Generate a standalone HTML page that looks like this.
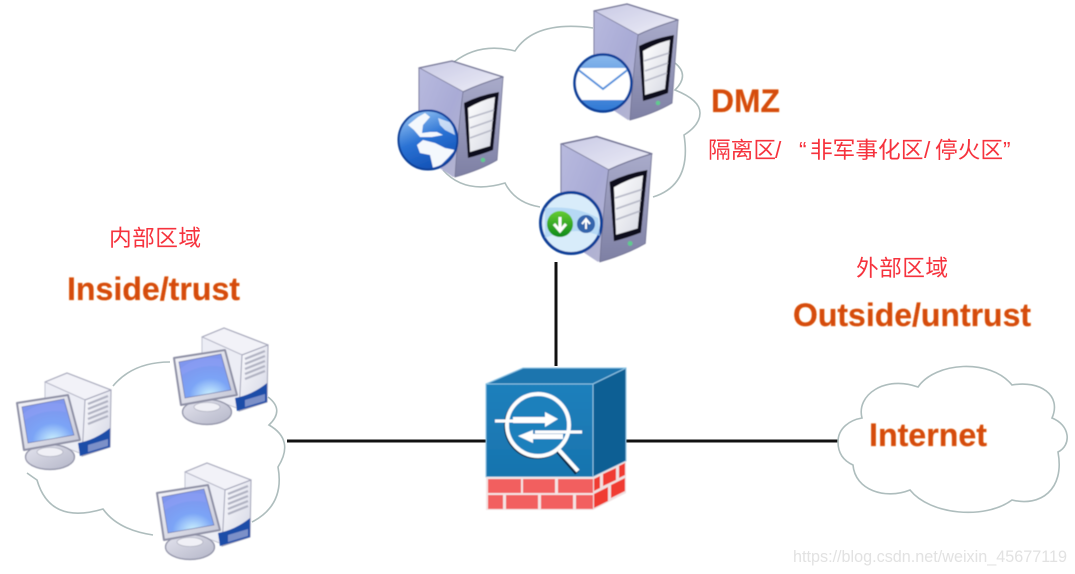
<!DOCTYPE html>
<html><head><meta charset="utf-8"><style>
html,body{margin:0;padding:0;background:#fff}
svg{display:block}
.o{font-family:"Liberation Sans",sans-serif;font-weight:bold;fill:#d54c0a;stroke:#e8701f;stroke-width:.3;filter:url(#bt)}
.r{font-family:"Liberation Sans","Noto Sans CJK SC",sans-serif;fill:#f6323c;font-size:22.7px;filter:url(#bs)}
.c{fill:none;stroke:#aebdbd;stroke-width:1.6}
</style></head><body>
<svg width="1075" height="574" viewBox="0 0 1075 574" xmlns="http://www.w3.org/2000/svg">
<defs>
<filter id="bt" x="-5%" y="-20%" width="110%" height="140%"><feGaussianBlur stdDeviation=".45"/></filter>
<filter id="bs" x="-5%" y="-20%" width="110%" height="140%"><feGaussianBlur stdDeviation=".25"/></filter>
<filter id="bi" x="-5%" y="-5%" width="110%" height="110%"><feGaussianBlur stdDeviation=".55"/></filter>
<linearGradient id="sl" x1="0" y1="0" x2="1" y2="1"><stop offset="0" stop-color="#b8bade"/><stop offset=".55" stop-color="#a9abd6"/><stop offset="1" stop-color="#b6b7d0"/></linearGradient>
<linearGradient id="st" x1="0" y1="0" x2="1" y2="1"><stop offset="0" stop-color="#c8c9e4"/><stop offset="1" stop-color="#eeeef8"/></linearGradient>
<linearGradient id="sf" x1="0" y1="0" x2="0" y2="1"><stop offset="0" stop-color="#a9abca"/><stop offset="1" stop-color="#7e80a4"/></linearGradient>
<linearGradient id="bay" x1="0" y1="0" x2="1" y2="1"><stop offset="0" stop-color="#ffffff"/><stop offset="1" stop-color="#d6d8e2"/></linearGradient>
<linearGradient id="glb" x1=".2" y1="0" x2=".6" y2="1"><stop offset="0" stop-color="#9cc8f4"/><stop offset=".5" stop-color="#2a72d4"/><stop offset="1" stop-color="#1250b4"/></linearGradient>
<radialGradient id="scr" cx=".6" cy=".95" r=".8"><stop offset="0" stop-color="#d0f6ff"/><stop offset=".5" stop-color="#7ba4f6"/><stop offset="1" stop-color="#7f96ee"/></radialGradient>
<linearGradient id="twr" x1="0" y1="0" x2="1" y2="1"><stop offset="0" stop-color="#fbfbfe"/><stop offset="1" stop-color="#d4d6e4"/></linearGradient>
<linearGradient id="mon" x1="0" y1="0" x2="1" y2="1"><stop offset="0" stop-color="#f6f6fa"/><stop offset="1" stop-color="#c4c6d6"/></linearGradient>
<linearGradient id="base" x1="0" y1="0" x2="1" y2="1"><stop offset="0" stop-color="#e4e4ee"/><stop offset="1" stop-color="#b4b6c8"/></linearGradient>
<linearGradient id="fw" x1="0" y1="0" x2="0" y2="1"><stop offset="0" stop-color="#1e80bc"/><stop offset="1" stop-color="#1874ae"/></linearGradient>
<linearGradient id="env" x1="0" y1="0" x2="0" y2="1"><stop offset="0" stop-color="#8ab8ec"/><stop offset="1" stop-color="#2f78d4"/></linearGradient>
<linearGradient id="grn" x1="0" y1="0" x2="0" y2="1"><stop offset="0" stop-color="#66cc33"/><stop offset="1" stop-color="#0d8a18"/></linearGradient>
<clipPath id="cMail"><circle cx="603" cy="83" r="27"/></clipPath>
<clipPath id="cGlobe"><circle cx="428" cy="140" r="28"/></clipPath>

<g id="server">
<path d="M419 68 452 61 503 77 Q480 84 463 92 Z" fill="url(#st)" stroke="#6f7192" stroke-width="1.4" stroke-linejoin="round"/>
<path d="M419 68 463 92 Q458 130 458 176 L453 177 420 155Z" fill="url(#sl)"/>
<path d="M419 68V155" stroke="#7b7d9e" stroke-width="1"/>
<path d="M463 92 Q480 84 503 77 L497 160 Q480 170 455 177 Q458 130 463 92Z" fill="url(#sf)" stroke="#6f7192" stroke-width=".8"/>
<path d="M464 103 Q480 95 499 92 L493 150 Q480 155 468 158Z" fill="#10101e"/>
<path d="M468 108 Q482 100 495 97 L490 146 Q480 149 470 152Z" fill="url(#bay)"/>
<path d="M469 118 494 110M470 128 493 120M470 138 492 130" stroke="#b8bac8" stroke-width="1.6" fill="none"/>
<circle cx="483" cy="160" r="2.2" fill="#5ecb8e"/>
</g>

<g id="pc">
<path d="M45 382 67 373 111 390 85 400Z" fill="#f2f2f8" stroke="#a0a2b6" stroke-width="1.2" stroke-linejoin="round"/>
<path d="M45 382 85 400 85 455 45 440Z" fill="#ecedf5" stroke="#b4b6c6" stroke-width=".8"/>
<path d="M85 400 111 390 110 447 82 456Z" fill="url(#twr)" stroke="#a0a2b6" stroke-width="1"/>
<path d="M88 404 108 396M88 409 108 401M88 414 108 406M88 419 108 411M88 424 108 416" stroke="#b0b2c2" stroke-width="2.2" fill="none"/>
<path d="M78 443 Q95 440 110 428 L110 447 80 456Z" fill="#1a4da8"/>
<path d="M88 445 108 439 108 446 88 452Z" fill="#7c90c8"/>
<ellipse cx="50" cy="457" rx="24.5" ry="12.5" fill="url(#base)" stroke="#8d8fa4" stroke-width="1.2"/>
<ellipse cx="50" cy="452" rx="13" ry="4.5" fill="#f0f0f6" stroke="#a6a8b8" stroke-width=".6"/>
<path d="M17 403 68 395 80 440 24 450Z" fill="url(#mon)" stroke="#8d8fa4" stroke-width="2" stroke-linejoin="round"/>
<path d="M22 407 64 399 74 435 28 443Z" fill="url(#scr)" stroke="#7278a8" stroke-width=".7"/>
<path d="M23 414Q40 400 64 404L66 412Q45 408 25 420Z" fill="#8ea0f6" opacity=".55"/>
</g>
</defs>

<!-- connectors -->
<path d="M556 262V366" stroke="#111" stroke-width="3"/>
<path d="M287 441H486M626 441H838" stroke="#111" stroke-width="3"/>

<!-- DMZ cloud -->
<path class="c" d="M454 62Q480 42 515 51Q535 20 593 28M675 63Q690 75 675 90Q700 100 700 113Q700 125 684 135Q692 185 653 197M540 207Q515 203 505 183Q465 195 443 170"/>
<!-- inside cloud -->
<path class="c" d="M170 362Q133 362 113 386M268 397Q285 410 269 425Q295 440 278 467Q285 505 252 522M153 535Q118 530 103 509Q50 525 37 480Q34 478 27 473"/>
<!-- internet cloud -->
<path class="c" fill="#fff" d="M838 442C838 428 850 420 862 418C856 395 885 375 918 387C935 362 990 358 1012 385C1040 380 1062 395 1052 418C1070 425 1072 445 1058 452C1065 490 1040 507 1012 500C985 520 930 515 910 490C885 500 855 490 853 465C842 460 838 452 838 442Z"/>

<g filter="url(#bi)">
<!-- servers -->
<use href="#server"/>
<circle cx="428" cy="140" r="29.5" fill="url(#glb)" stroke="#0e3f98" stroke-width="2"/>
<g clip-path="url(#cGlobe)" fill="#f4f8fd">
<path d="M417 145 423 140 435 143 445 148 455 150 448 158 438 168 433 168 430 155 420 153Z"/>
<path d="M408 125 418 117 425 113 430 117 423 125 422 133 430 132 437 132 443 135 432 137 420 137 414 130Z"/>
<path d="M438 118 452 123 455 135 445 130 440 125Z" opacity=".75"/>
</g>

<use href="#server" transform="translate(175 -57)"/>
<circle cx="603" cy="83" r="28.5" fill="url(#env)" stroke="#0e3f98" stroke-width="2.5"/>
<g clip-path="url(#cMail)">
<rect x="570" y="68" width="66" height="32" fill="#fff"/>
<path d="M576 68 603 89 630 68" fill="none" stroke="#4f90dc" stroke-width="2"/>
</g>

<g transform="translate(561 143) scale(1.08) translate(-419 -67)"><use href="#server"/></g>
<circle cx="571" cy="223" r="30.5" fill="#d8ecfa" stroke="#0e3f98" stroke-width="3"/>
<path d="M545 208Q575 205 598 218L600 236Q575 225 545 238Z" fill="#a8d2f2" opacity=".7"/>
<circle cx="560" cy="224" r="13" fill="url(#grn)"/>
<path d="M560 217V230M554 224 560 231 566 224" stroke="#fff" stroke-width="3" fill="none"/>
<circle cx="586" cy="224" r="9" fill="#3565ac"/>
<path d="M586 229V220M582 224 586 219 590 224" stroke="#fff" stroke-width="2" fill="none"/>

<!-- PCs -->
<use href="#pc"/>
<use href="#pc" transform="translate(157 -45)"/>
<use href="#pc" transform="translate(140 90)"/>

<!-- firewall -->
<path d="M486 384 523 368H626L593 384Z" fill="#1a74ae" stroke="#8cc4e4" stroke-width="1"/>
<path d="M593 384 626 368V461L593 477Z" fill="#0e5f94" stroke="#8cc4e4" stroke-width="1"/>
<rect x="486" y="384" width="107" height="93" fill="url(#fw)" stroke="#8cc4e4" stroke-width="1"/>
<rect x="486" y="477" width="107" height="33" fill="#f4e4e4"/>
<g fill="#f25e5e">
<rect x="488" y="479" width="33" height="14"/><rect x="523" y="479" width="32" height="14"/><rect x="558" y="479" width="35" height="14"/>
<rect x="488" y="495" width="15" height="14"/><rect x="506" y="495" width="32" height="14"/><rect x="541" y="495" width="32" height="14"/><rect x="576" y="495" width="17" height="14"/>
</g>
<path d="M593 477 626 461V493L593 510Z" fill="#f0e0e0"/>
<g fill="#f03a32">
<path d="M594 479 600 476V488L594 491ZM603 474 616 468V480L603 486ZM619 466 625 463V475L619 478Z"/>
<path d="M594 494 608 487V501L594 508ZM611 485 625 478V491L611 498Z"/>
</g>
<circle cx="537" cy="426" r="31" fill="none" stroke="#0a2a48" stroke-width="4"/>
<circle cx="538" cy="425" r="31" fill="#1e80bc" stroke="#fff" stroke-width="4"/>
<path d="M558 451 577 473" stroke="#0a2a48" stroke-width="5"/>
<path d="M559 450 578 471" stroke="#fff" stroke-width="4"/>
<path d="M495 421H548M535 432H582" stroke="#fff" stroke-width="3" fill="none"/>
<path d="M513 417H545V412L558 419 545 427V423H513Z" fill="#fff"/>
<path d="M563 434H533V430L518 436 533 443V439H563Z" fill="#fff"/>
</g>

<!-- labels -->
<text class="o" x="711" y="112" font-size="32" textLength="69" lengthAdjust="spacingAndGlyphs">DMZ</text>
<text class="r"><tspan x="708" y="158">隔离区</tspan><tspan x="775" y="158">/</tspan><tspan x="799" y="158">“</tspan><tspan x="810" y="158">非军事化区</tspan><tspan x="924" y="158">/</tspan><tspan x="935" y="158">停火区</tspan><tspan x="1003" y="158">”</tspan></text>
<text class="r" x="109" y="246" textLength="92">内部区域</text>
<text class="r" x="856" y="276" textLength="92">外部区域</text>
<text class="o" x="67" y="300" font-size="32" textLength="173" lengthAdjust="spacingAndGlyphs">Inside/trust</text>
<text class="o" x="793" y="326" font-size="32" textLength="238" lengthAdjust="spacingAndGlyphs">Outside/untrust</text>
<text class="o" x="869" y="446" font-size="32" textLength="118" lengthAdjust="spacingAndGlyphs">Internet</text>
<text x="793" y="562" font-family="Liberation Sans, sans-serif" font-size="17" fill="#e2e2e2" textLength="274" lengthAdjust="spacingAndGlyphs">https://blog.csdn.net/weixin_45677119</text>
</svg>
</body></html>
